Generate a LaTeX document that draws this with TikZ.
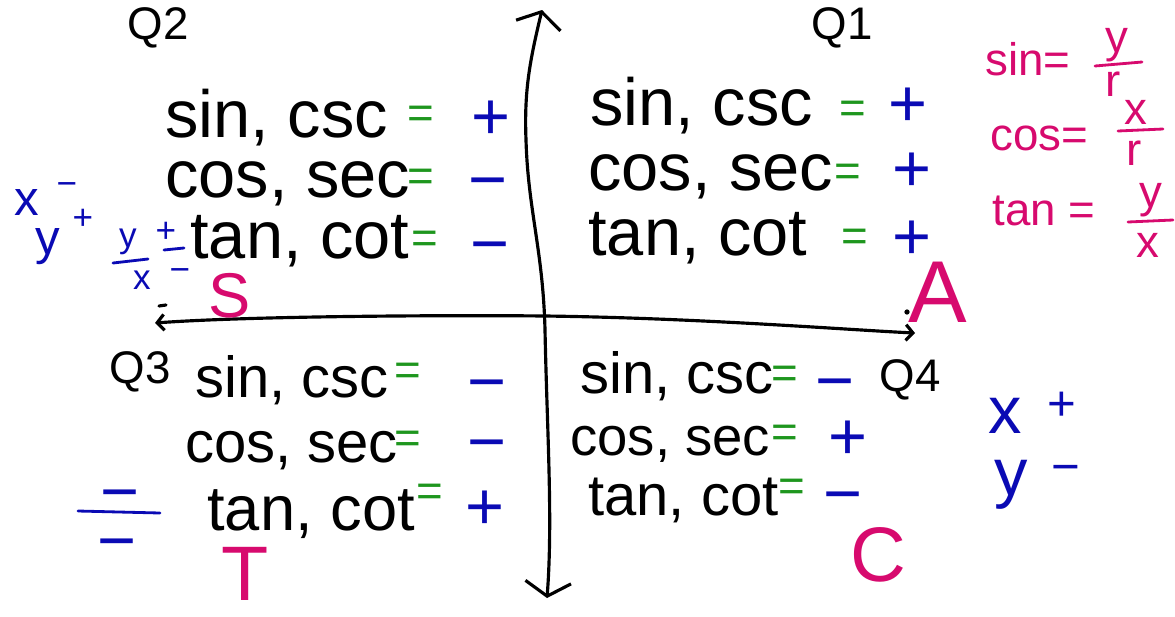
\documentclass[tikz,border=0pt]{standalone}
\usepackage{fontspec}
\setmainfont{Liberation Sans}
\usetikzlibrary{arrows.meta}
\definecolor{penblue}{RGB}{10,10,180}
\definecolor{pengreen}{RGB}{30,150,30}
\definecolor{penpink}{RGB}{215,10,110}

\begin{document}
\begin{tikzpicture}[x=.02cm,y=-.02cm,
  trig/.style={anchor=base west,inner sep=0pt,font=\fontsize{38}{40}\selectfont},
  trigsm/.style={trig,font=\fontsize{33}{35}\selectfont},
  eqsign/.style={text=pengreen,inner sep=0pt,font=\fontsize{26}{28}\selectfont},
  pm/.style={text=penblue,inner sep=0pt,font=\fontsize{38}{40}\selectfont},
  quadlab/.style={inner sep=0pt,font=\fontsize{26}{28}\selectfont},
  letter/.style={text=penpink,inner sep=0pt,font=\fontsize{44}{46}\selectfont},
  rule/.style={text=penpink,anchor=base west,inner sep=0pt,font=\fontsize{26}{28}\selectfont},
  ruleterm/.style={text=penpink,inner sep=0pt,font=\fontsize{26}{28}\selectfont},
  note/.style={text=penblue,inner sep=0pt,font=\fontsize{28}{30}\selectfont},
  notesm/.style={text=penblue,inner sep=0pt,font=\fontsize{20}{22}\selectfont},
  axis/.style={line width=1.8pt,line cap=round},
  bar/.style={line width=1.6pt,line cap=round}]
\useasboundingbox (0,0) rectangle (1175,616);
% axes
\coordinate (ytop) at (542,10);
\coordinate (ybot) at (547,598);
\coordinate (xleft) at (155,323);
\coordinate (xright) at (915,333);
\draw[axis,{Straight Barb[length=8pt,width=26pt]}-{Straight Barb[length=8pt,width=26pt]}]
  (ytop) .. controls (530,60) and (524,90) .. (526,140)
  .. controls (528,210) and (543,250) .. (545,330)
  .. controls (547,430) and (553,520) .. (ybot);
\draw[axis,{Straight Barb[length=4pt,width=9pt]}-{Straight Barb[length=4pt,width=9pt]}]
  (xleft) .. controls (250,316) and (450,315) .. (545,316)
  .. controls (700,318) and (850,330) .. (xright);
\draw[axis] (159,306) -- (166,305);
\fill (907,312) circle[radius=1.5pt];
% quadrant names
\node[quadlab] (q2) at (158,28) {Q2};
\node[quadlab] (q1) at (842,28) {Q1};
\node[quadlab] (q3) at (140,372) {Q3};
\node[quadlab] (q4) at (910,380) {Q4};
% Q2
\node[trig] (q2sin) at (165,137) {sin, csc};
\node[eqsign] (q2sineq) at (421,117) {=};
\node[pm] (q2sinpm) at (491,120) {+};
\node[trig] (q2cos) at (165,197) {cos, sec};
\node[eqsign] (q2coseq) at (421,180) {=};
\node[pm] (q2cospm) at (488,190) {−};
\node[trig] (q2tan) at (190,258) {tan, cot};
\node[eqsign] (q2taneq) at (425,242) {=};
\node[pm] (q2tanpm) at (490,254) {−};
% Q1
\node[trig] (q1sin) at (590,125) {sin, csc};
\node[eqsign] (q1sineq) at (853,112) {=};
\node[pm] (q1sinpm) at (908,107) {+};
\node[trig] (q1cos) at (588,190) {cos, sec};
\node[eqsign] (q1coseq) at (848,175) {=};
\node[pm] (q1cospm) at (912,172) {+};
\node[trig] (q1tan) at (588,255) {tan, cot};
\node[eqsign] (q1taneq) at (855,240) {=};
\node[pm] (q1tanpm) at (912,240) {+};
% Q3
\node[trigsm] (q3sin) at (195,397) {sin, csc};
\node[eqsign] (q3sineq) at (408,374) {=};
\node[pm] (q3sinpm) at (487,392) {−};
\node[trigsm] (q3cos) at (185,462) {cos, sec};
\node[eqsign] (q3coseq) at (408,442) {=};
\node[pm] (q3cospm) at (487,452) {−};
\node[trigsm,font=\fontsize{36}{38}\selectfont] (q3tan) at (207,530) {tan, cot};
\node[eqsign] (q3taneq) at (430,495) {=};
\node[pm] (q3tanpm) at (485,510) {+};
% Q4
\node[trigsm] (q4sin) at (580,393) {sin, csc};
\node[eqsign] (q4sineq) at (785,377) {=};
\node[pm] (q4sinpm) at (835,391) {−};
\node[trigsm,font=\fontsize{31}{33}\selectfont] (q4cos) at (570,455) {cos, sec};
\node[eqsign] (q4coseq) at (785,436) {=};
\node[pm] (q4cospm) at (848,440) {+};
\node[trigsm] (q4tan) at (588,515) {tan, cot};
\node[eqsign] (q4taneq) at (792,490) {=};
\node[pm] (q4tanpm) at (843,504) {−};
% ASTC letters
\node[letter,font=\fontsize{36}{38}\selectfont] (lS) at (230,296) {S};
\node[letter,font=\fontsize{50}{52}\selectfont] (lA) at (938,292) {A};
\node[letter] (lT) at (245,574) {T};
\node[letter] (lC) at (878,555) {C};
% definitions
\node[rule] (sindef) at (985,75) {sin=};
\node[ruleterm] (sinnum) at (1117,45) {y};
\node[ruleterm] (sinden) at (1113,84) {r};
\draw[penpink,bar] (1095,66) -- (1142,62);
\node[rule] (cosdef) at (990,150) {cos=};
\node[ruleterm] (cosnum) at (1136,112) {x};
\node[ruleterm] (cosden) at (1134,153) {r};
\draw[penpink,bar] (1118,131) -- (1163,129);
\node[rule] (tandef) at (992,225) {tan =};
\node[ruleterm] (tannum) at (1151,200) {y};
\node[ruleterm] (tanden) at (1148,245) {x};
\draw[penpink,bar] (1128,222) -- (1173,220);
% blue notes, Q2
\node[note] (q2x) at (27,202) {x};
\node[notesm] (q2xs) at (67,189) {−};
\node[note] (q2y) at (48,247) {y};
\node[notesm] (q2ys) at (83,219) {+};
\node[notesm] (fy) at (128,242) {y};
\node[notesm] (fx) at (142,280) {x};
\draw[penblue,bar] (113,263) -- (148,259);
\node[notesm] (fys) at (166,232) {+};
\draw[penblue,bar] (164,250) -- (184,248);
\node[notesm] (fxs) at (180,275) {−};
% blue notes, Q3
\node[pm] (q3num) at (120,502) {−};
\node[pm] (q3den) at (117,551) {−};
\draw[penblue,bar] (78,511) -- (160,513);
% blue notes, Q4
\node[note,font=\fontsize{38}{40}\selectfont] (q4x) at (1005,416) {x};
\node[note] (q4xs) at (1062,406) {+};
\node[note,font=\fontsize{38}{40}\selectfont] (q4y) at (1011,485) {y};
\node[note] (q4ys) at (1066,474) {−};
\end{tikzpicture}
\end{document}
